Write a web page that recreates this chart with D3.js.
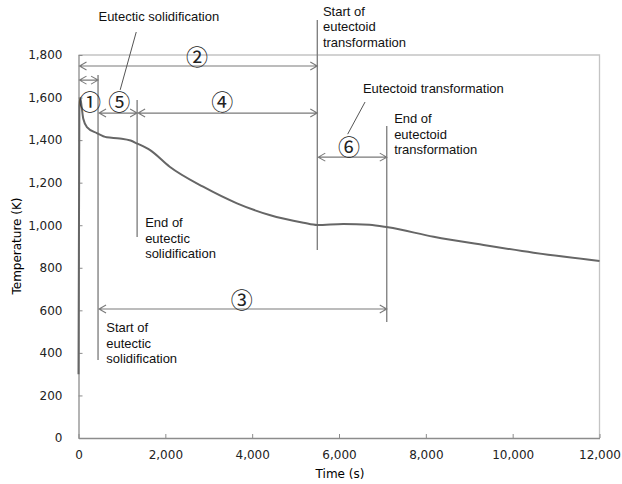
<!DOCTYPE html>
<html>
  <head>
    <meta charset="utf-8">
    <title>Cooling curve</title>
    <script src="https://d3js.org/d3.v7.min.js"></script>
    <style>
      body { margin: 0; background: #fff; }
      text { font-family: "Liberation Sans", Arial, sans-serif; }
      .tick text { font-family: "DejaVu Sans", Verdana, sans-serif; font-size: 12px; fill: #222; }
    </style>
  </head>
  <body>
    <div id="chart"></div>
    <script>
      // cooling curve (time in s, temperature in K)
      const times = [0, 20, 40, 70, 110, 200, 420, 650, 950, 1200, 1340, 1650, 2100, 2870, 3650, 4400, 5180, 5500, 6100, 6700, 7130, 8180, 9330, 10480, 12000];
      const temps = [300, 1560, 1598, 1560, 1500, 1460, 1433, 1413, 1408, 1398, 1385, 1353, 1275, 1181, 1103, 1048, 1012, 1001, 1006, 1002, 990, 946, 907, 871, 832];

      const xTicks = [0, 2000, 4000, 6000, 8000, 10000, 12000];
      const yTicks = [0, 200, 400, 600, 800, 1000, 1200, 1400, 1600, 1800];

      // event times and guide lines (time, top K, bottom K)
      const markTimes = [450, 1350, 5500, 7100];
      const markTop = [1706, 1588, 1964, 1466];
      const markBottom = [367, 945, 883, 545];

      // interval arrows: label, start, end, level (K), label position
      const spanLabels = ["①", "②", "③", "④", "⑤", "⑥"];
      const spanStart = [0, 0, 450, 1350, 450, 5500];
      const spanEnd = [450, 5500, 7100, 5500, 1350, 7100];
      const spanLevel = [1682, 1748, 606, 1527, 1527, 1320];
      const spanLabelTime = [265, 2730, 3760, 3310, 940, 6230];
      const spanLabelLevel = [1588, 1800, 657, 1588, 1588, 1377];

      const notes = [
        { lines: ["Eutectic solidification"], t: 460, T: 1958 },
        { lines: ["Start of", "eutectoid", "transformation"], t: 5630, T: 1985 },
        { lines: ["Eutectoid transformation"], t: 6550, T: 1620 },
        { lines: ["End of", "eutectoid", "transformation"], t: 7270, T: 1480 },
        { lines: ["End of", "eutectic", "solidification"], t: 1535, T: 991 },
        { lines: ["Start of", "eutectic", "solidification"], t: 640, T: 496 }
      ];
      // leader lines from note to circled number
      const leaders = [[[1330, 1908], [960, 1636]], [[6600, 1579], [6200, 1428]]];

      const width = 622, height = 484;
      const margin = { top: 55, right: 22.5, bottom: 46, left: 78.5 };

      const svg = d3.select("#chart")
        .append("svg")
        .attr("width", width)
        .attr("height", height);

      const x = d3.scaleLinear()
        .domain([0, 12000])
        .range([margin.left, width - margin.right]);
      const y = d3.scaleLinear()
        .domain([0, 1800])
        .range([height - margin.bottom, margin.top]);

      const fmt = d3.format(",");

      // plot area border (top and right)
      svg.append("path")
        .attr("d", `M${x(0)},${y(1800)}H${x(12000)}V${y(0)}`)
        .attr("fill", "none")
        .attr("stroke", "#c4c4c4")
        .attr("stroke-width", 1.3);

      svg.append("g")
        .attr("transform", `translate(0,${y(0)})`)
        .call(d3.axisBottom(x).tickValues(xTicks).tickFormat(fmt).tickSizeInner(-4).tickSizeOuter(0).tickPadding(12))
        .call(g => g.select(".domain").attr("stroke", "#8c8c8c").attr("stroke-width", 1.3))
        .call(g => g.selectAll(".tick line").attr("stroke", "#8c8c8c"));

      svg.append("g")
        .attr("transform", `translate(${x(0)},0)`)
        .call(d3.axisLeft(y).tickValues(yTicks).tickFormat(fmt).tickSizeInner(-4).tickSizeOuter(0).tickPadding(16))
        .call(g => g.select(".domain").attr("stroke", "#8c8c8c").attr("stroke-width", 1.3))
        .call(g => g.selectAll(".tick line").attr("stroke", "#8c8c8c"));

      svg.append("text")
        .attr("x", 340)
        .attr("y", 478)
        .attr("text-anchor", "middle")
        .style("font-family", "'DejaVu Sans', Verdana, sans-serif")
        .style("font-size", "12px")
        .text("Time (s)");

      svg.append("text")
        .attr("transform", "translate(21,246) rotate(-90)")
        .attr("text-anchor", "middle")
        .style("font-family", "'DejaVu Sans', Verdana, sans-serif")
        .style("font-size", "12px")
        .text("Temperature (K)");

      const ink = "#7a7a7a";

      // guide lines
      svg.selectAll(".mark")
        .data(markTimes)
        .join("line")
        .attr("class", "mark")
        .attr("x1", d => x(d))
        .attr("x2", d => x(d))
        .attr("y1", (d, i) => y(markTop[i]))
        .attr("y2", (d, i) => y(markBottom[i]))
        .attr("stroke", ink)
        .attr("stroke-width", 1.3);

      // the cooling curve
      const pts = times.map((t, i) => [t, temps[i]]);
      svg.append("path")
        .datum(pts)
        .attr("fill", "none")
        .attr("stroke", "#666")
        .attr("stroke-width", 2)
        .attr("d", d3.line().x(d => x(d[0])).y(d => y(d[1])).curve(d3.curveMonotoneX));

      // double arrows
      const arrows = svg.append("g");
      spanLabels.forEach((lab, i) => {
        const x1 = x(spanStart[i]) + 1, x2 = x(spanEnd[i]), yy = y(spanLevel[i]);
        arrows.append("path")
          .attr("d", `M${x1},${yy}H${x2}M${x1 + 7},${yy - 4}L${x1},${yy}L${x1 + 7},${yy + 4}M${x2 - 7},${yy - 4}L${x2},${yy}L${x2 - 7},${yy + 4}`)
          .attr("fill", "none")
          .attr("stroke", ink)
          .attr("stroke-width", 1.1);
        arrows.append("text")
          .attr("x", x(spanLabelTime[i]))
          .attr("y", y(spanLabelLevel[i]))
          .attr("text-anchor", "middle")
          .attr("dominant-baseline", "central")
          .style("font-family", "'Noto Sans CJK JP', sans-serif")
          .style("font-size", "22px")
          .style("fill", "#222")
          .text(lab);
      });

      // leader lines
      svg.selectAll(".leader")
        .data(leaders)
        .join("line")
        .attr("class", "leader")
        .attr("x1", d => x(d[0][0]))
        .attr("y1", d => y(d[0][1]))
        .attr("x2", d => x(d[1][0]))
        .attr("y2", d => y(d[1][1]))
        .attr("stroke", "#555")
        .attr("stroke-width", 1);

      // notes
      notes.forEach(n => {
        const t = svg.append("text")
          .attr("x", x(n.t))
          .attr("y", y(n.T))
          .style("font-size", "13px")
          .style("fill", "#111");
        n.lines.forEach((ln, j) => {
          t.append("tspan")
            .attr("x", x(n.t))
            .attr("dy", j === 0 ? 0 : 15.5)
            .text(ln);
        });
      });
    </script>
  </body>
</html>
